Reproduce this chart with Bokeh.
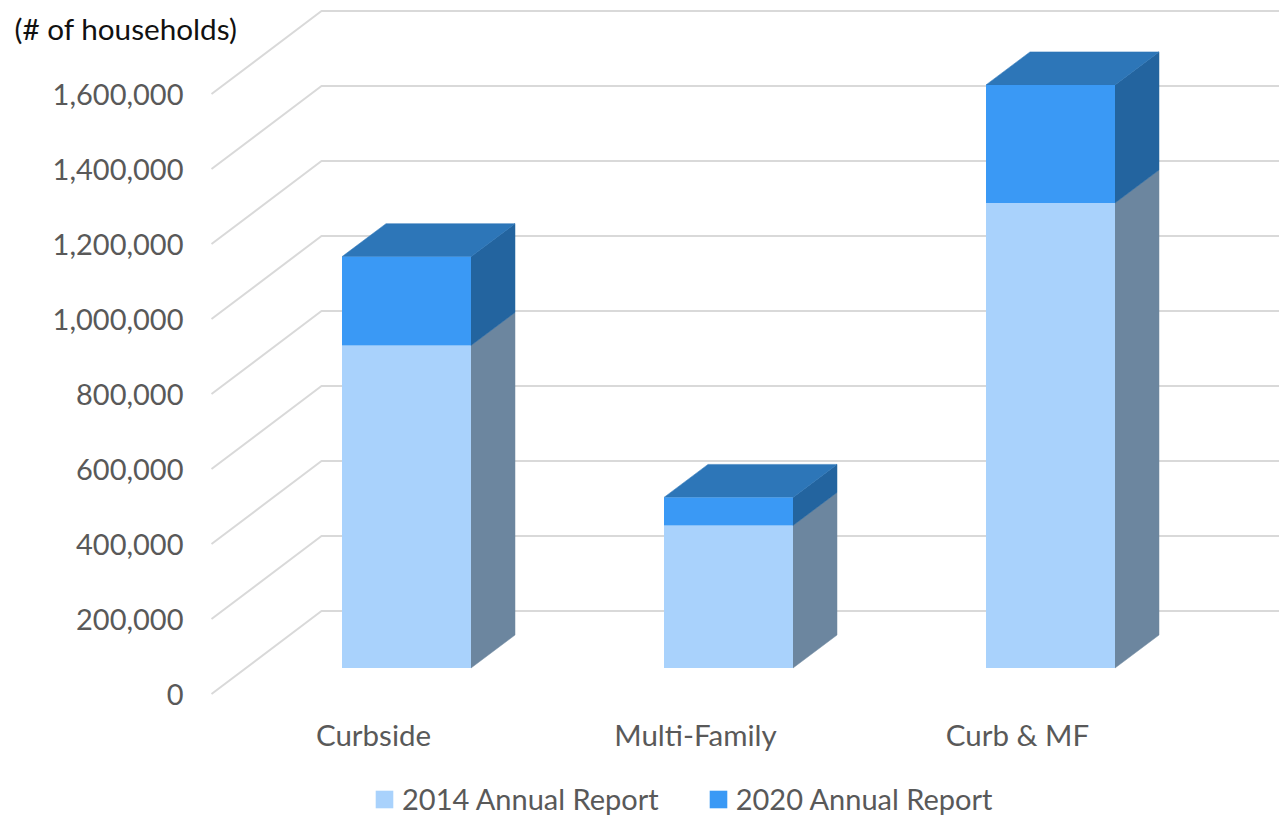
from bokeh.core.properties import value
from bokeh.embed import file_html
from bokeh.models import Label, Legend, LegendItem, Range1d
from bokeh.plotting import figure
from bokeh.resources import INLINE

categories = ["Curbside", "Multi-Family", "Curb & MF"]
series_2014 = [860000, 380000, 1240000]
series_2020 = [237000, 75000, 315000]
axis_ticks = [0, 200000, 400000, 600000, 800000, 1000000, 1200000, 1400000, 1600000]
series_names = ["2014 Annual Report", "2020 Annual Report"]

FONT = "Lato"
LIGHT, LIGHT_SIDE = "#A9D2FC", "#6C869F"
DARK, DARK_SIDE, DARK_TOP = "#3A99F5", "#23649F", "#2D76B8"
GRID = "#D9D9D9"
TEXT = "#595959"

W, H = 1279, 816
PX_X = 322.0            # pixels per category
PX_V = 75.0 / 200000    # pixels per household
BAR = 129 / PX_X
DX = 44 / PX_X          # bar depth, horizontal
DV = 33 / PX_V          # bar depth, vertical
WALL_FRONT_X = -195 / PX_X
WALL_BACK_X = -85 / PX_X
WALL_BACK_V = 57 / PX_V
WALL_FRONT_V = -26 / PX_V

x0 = -406 / PX_X
x1 = x0 + W / PX_X
v0 = -(H - 667.5) / PX_V
v1 = v0 + H / PX_V

p = figure(width=W, height=H, output_backend="svg", toolbar_location=None,
           x_range=Range1d(x0, x1), y_range=Range1d(v0, v1),
           x_axis_type=None, y_axis_type=None,
           min_border_left=0, min_border_bottom=0, min_border_right=0, min_border_top=0)
p.outline_line_color = None
p.grid.visible = False

# walls: one line per axis tick, from the front edge to the back wall, then across
p.multi_line(
    xs=[[WALL_FRONT_X, WALL_BACK_X, x1] for _ in axis_ticks],
    ys=[[t + WALL_FRONT_V, t + WALL_BACK_V, t + WALL_BACK_V] for t in axis_ticks],
    line_color=GRID, line_width=2)

# bars
xc = list(range(len(categories)))
tops_2014 = series_2014
tops_2020 = [a + b for a, b in zip(series_2014, series_2020)]
bottoms = [0 for _ in xc]


def side(xv, lo, hi):
    r = xv + BAR / 2
    return [r, r + DX, r + DX, r], [lo, lo + DV, hi + DV, hi]


def top(xv, hi):
    l, r = xv - BAR / 2, xv + BAR / 2
    return [l, r, r + DX, l + DX], [hi, hi, hi + DV, hi + DV]


for lo, hi, col in ((bottoms, tops_2014, LIGHT_SIDE), (tops_2014, tops_2020, DARK_SIDE)):
    polys = [side(c, a, b) for c, a, b in zip(xc, lo, hi)]
    p.patches([q[0] for q in polys], [q[1] for q in polys], fill_color=col, line_color=col, line_width=0.5)
polys = [top(c, b) for c, b in zip(xc, tops_2020)]
p.patches([q[0] for q in polys], [q[1] for q in polys], fill_color=DARK_TOP, line_color=DARK_TOP, line_width=0.5)

r1 = p.vbar(x=xc, width=BAR, bottom=bottoms, top=tops_2014, fill_color=LIGHT, line_color=None)
r2 = p.vbar(x=xc, width=BAR, bottom=tops_2014, top=tops_2020, fill_color=DARK, line_color=None)

# value labels, on the front edge of the wall
p.text(x=[(183 - 406) / PX_X for _ in axis_ticks],
       y=[t + WALL_FRONT_V for t in axis_ticks],
       text=[f"{t:,}" for t in axis_ticks],
       text_font=value(FONT), text_font_size="29px", text_color=TEXT,
       text_align="right", text_baseline="middle")

# category labels, on the floor in front of the bars
p.text(x=[c - 33 / PX_X for c in xc],
       y=[-66 / PX_V for _ in xc],
       text=categories,
       text_font=value(FONT), text_font_size="29.5px", text_color=TEXT,
       text_align="center", text_baseline="middle")

legend = Legend(items=[LegendItem(label=series_names[0], renderers=[r1]),
                       LegendItem(label=series_names[1], renderers=[r2])],
                orientation="horizontal", location=(373, 0),
                background_fill_alpha=0, border_line_color=None,
                glyph_width=22, glyph_height=22, label_standoff=7, spacing=48,
                padding=0, margin=0,
                label_text_font=FONT, label_text_font_size="29px", label_text_color=TEXT)
p.add_layout(legend, "center")

p.add_layout(Label(x=14, y=788, x_units="screen", y_units="screen", text="(# of households)",
                   text_font=FONT, text_font_size="29.7px", text_color="#111111",
                   text_baseline="middle"))

open("out.html", "w").write(file_html(p, INLINE))
